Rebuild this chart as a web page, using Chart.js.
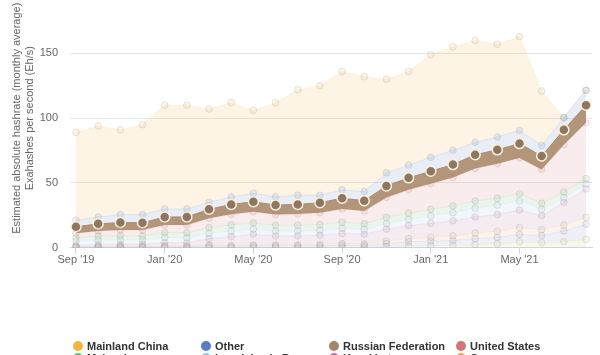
<!DOCTYPE html>
<html><head><meta charset="utf-8">
<script src="https://cdn.jsdelivr.net/npm/chart.js@4/dist/chart.umd.min.js"></script>
<style>
html,body{margin:0;padding:0;width:600px;height:355px;overflow:hidden;background:#fff;}
#wrap{position:absolute;left:0;top:-30px;width:600px;height:385px;}
#legend{position:absolute;left:0;top:0;width:600px;height:355px;font:bold 11px "Liberation Sans",Arial,sans-serif;color:#333;}
.item{position:absolute;display:flex;align-items:center;white-space:nowrap;height:13px;line-height:13px;}
.dot{width:10px;height:10px;border-radius:50%;margin-right:4px;flex:none;}
</style></head><body>
<div id="wrap"><canvas id="c" width="600" height="385"></canvas></div>
<div id="legend"></div>
<script>
// ---- data (Exahashes per second, monthly average) ----
const months = ["Sep '19","Oct '19","Nov '19","Dec '19","Jan '20","Feb '20","Mar '20","Apr '20","May '20","Jun '20","Jul '20","Aug '20",
                "Sep '20","Oct '20","Nov '20","Dec '20","Jan '21","Feb '21","Mar '21","Apr '21","May '21","Jun '21","Jul '21","Aug '21"];
const xTickIndex = [0, 4, 8, 12, 16, 20];
const yTicks = [0, 50, 100, 150, 200];

const mainlandChina     = [67.7,70.2,65.4,69.4,80.1,80.1,71.8,72.7,63.9,72.7,81.4,84.4,91.3,88.6,72.2,72.1,79.2,79.7,78.6,71.5,72.4,42.1,0,0];
const other             = [5.1,5.3,6.1,6.3,6.1,6.1,5.5,5.8,6.6,6.3,7.1,5.8,6.4,7.1,10.1,9.9,10.7,11.1,9.6,9.9,10.2,8.1,9.5,11.5];
const russianFederation = [5.0,5.5,5.8,5.6,6.2,6.3,6.9,7.7,7.6,7.4,7.5,7.8,8.4,7.9,8.8,9.2,9.6,9.9,10.6,10.7,11.2,10.4,11.4,13.6];
const unitedStates      = [3.6,4.0,4.5,4.6,5.8,6.0,7.2,8.1,8.6,8.2,8.6,9.1,10.1,9.8,15.5,18.0,19.8,21.9,25.0,26.6,27.5,26.0,36.5,43.0];
const malaysia          = [2.6,3.0,3.0,3.0,3.8,3.8,4.4,4.8,4.8,4.5,4.5,4.5,4.8,4.5,4.7,4.9,5.2,5.4,5.6,5.4,5.6,4.6,4.4,4.2];
const iran              = [3.0,3.4,3.4,3.3,4.0,3.9,4.1,4.3,4.0,3.8,3.7,3.7,3.9,3.6,4.3,4.8,5.6,6.2,6.8,7.2,7.0,5.0,3.6,3.8];
const kazakhstan        = [1.1,1.4,1.6,1.7,2.6,2.5,5.0,6.9,8.2,6.9,6.8,7.1,7.9,7.4,9.2,10.0,10.8,11.6,12.4,12.9,13.4,10.8,17.4,21.9];
const germany           = [0.2,0.3,0.3,0.3,0.4,0.4,0.6,0.6,0.7,0.7,0.8,0.9,1.1,1.1,1.9,2.5,3.0,3.6,4.4,4.8,5.4,4.6,4.7,5.4];
const canada            = [0.6,0.8,0.8,0.7,0.9,0.8,1.3,0.9,1.3,1.2,1.3,1.4,1.7,1.6,2.5,3.3,3.5,3.8,4.6,4.9,5.6,5.4,8.3,11.6];
const ireland           = [0.1,0.1,0.1,0.1,0.1,0.1,0.2,0.2,0.3,0.3,0.3,0.3,0.4,0.4,0.8,1.3,1.6,1.8,2.4,3.1,4.7,4.0,4.7,6.5];

// legend order (top of stack first)
const seriesNames  = ["Mainland China","Other","Russian Federation","United States","Malaysia","Iran, Islamic Rep.","Kazakhstan","Germany","Canada","Ireland"];
const seriesValues = [mainlandChina, other, russianFederation, unitedStates, malaysia, iran, kazakhstan, germany, canada, ireland];
const seriesColors = ["#f2b447","#5a7ec2","#a5866a","#d27676","#74b878","#9ac8ea","#b5779a","#e6a878","#8c8cc8","#c9c36a"];
const highlighted  = "Russian Federation";

function rgba(hex, a){
  const n = parseInt(hex.slice(1),16);
  return `rgba(${n>>16},${(n>>8)&255},${n&255},${a})`;
}

// Chart.js stacks by dataset index (first = bottom), so reverse legend order
const datasets = [];
for (let k = seriesNames.length - 1; k >= 0; k--) {
  const name = seriesNames[k], col = seriesColors[k], hi = name === highlighted;
  datasets.push({
    label: name,
    data: seriesValues[k].map((v, i) => ({x: i, y: v})),
    fill: datasets.length === 0 ? 'origin' : '-1',
    backgroundColor: hi ? '#b39679' : rgba(col, 0.14),
    borderColor: hi ? '#a98b6f' : rgba(col, 0.12),
    borderWidth: 1,
    tension: 0,
    pointRadius: hi ? 5 : 3.3,
    pointBackgroundColor: hi ? '#8e7661' : rgba(col, 0.12),
    pointBorderColor: hi ? '#fbf1df' : 'rgba(150,150,150,0.25)',
    pointBorderWidth: hi ? 1.5 : 1,
    legendColor: col
  });
}

const chart = new Chart(document.getElementById('c'), {
  type: 'line',
  data: { datasets },
  options: {
    responsive: false,
    animation: false,
    devicePixelRatio: 1,
    layout: { padding: { top: 14, right: 8, bottom: 88, left: 0 } },
    plugins: { legend: { display: false }, tooltip: { enabled: false } },
    scales: {
      x: {
        type: 'linear',
        min: -0.27, max: 23.27,
        afterBuildTicks: s => { s.ticks = xTickIndex.map(v => ({value: v})); },
        ticks: {
          callback: v => months[v],
          autoSkip: false, maxRotation: 0, padding: 0,
          color: '#666', font: { family: '"Liberation Sans", Arial, sans-serif', size: 11 }
        },
        grid: { drawOnChartArea: false, tickLength: 6, tickColor: '#ccd6eb' },
        border: { color: '#ccd6eb' }
      },
      y: {
        stacked: true,
        min: 0, max: 200,
        afterBuildTicks: s => { s.ticks = yTicks.map(v => ({value: v})); },
        afterFit: s => { s.width = 70; },
        ticks: {
          padding: 12, color: '#666',
          font: { family: '"Liberation Sans", Arial, sans-serif', size: 11 }
        },
        grid: { color: '#e6e6e6', drawTicks: false },
        border: { display: false },
        title: {
          display: true,
          text: ['Estimated absolute hashrate (monthly average)', 'Exahashes per second (Eh/s)'],
          color: '#666',
          font: { family: '"Liberation Sans", Arial, sans-serif', size: 11, lineHeight: 1.15 },
          padding: { top: 11, bottom: 0 }
        }
      }
    }
  }
});

// HTML legend built from the chart's datasets, in stack (top-first) order
const legend = document.getElementById('legend');
const colX = [73, 201, 329, 456];
const rowY = [339.5, 351.5, 363.5];
chart.data.datasets.slice().reverse().forEach((ds, i) => {
  const el = document.createElement('div');
  el.className = 'item';
  el.style.left = colX[i % 4] + 'px';
  el.style.top = rowY[Math.floor(i / 4)] + 'px';
  const dot = document.createElement('span');
  dot.className = 'dot';
  dot.style.background = ds.legendColor;
  const txt = document.createElement('span');
  txt.textContent = ds.label;
  el.appendChild(dot); el.appendChild(txt);
  legend.appendChild(el);
});
</script>
</body></html>
